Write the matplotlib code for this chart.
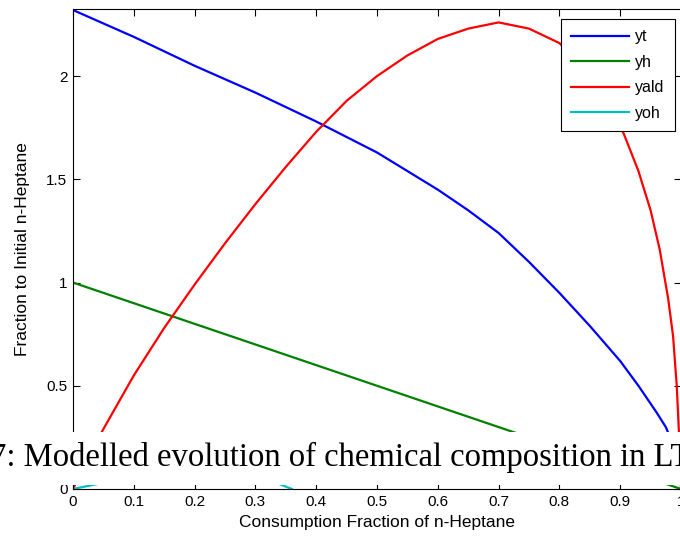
import matplotlib
matplotlib.use("Agg")
import matplotlib.pyplot as plt
from matplotlib.patches import Rectangle

# values (x = consumption fraction of n-heptane)
yt_x = [0.0, 0.1, 0.2, 0.3, 0.4, 0.5, 0.6, 0.65, 0.7, 0.75, 0.8, 0.85, 0.9,
        0.93, 0.96, 0.975, 0.985, 0.993, 1.0]
yt_y = [2.32, 2.19, 2.05, 1.92, 1.78, 1.63, 1.45, 1.35, 1.24, 1.10, 0.95, 0.79, 0.62,
        0.50, 0.37, 0.30, 0.23, 0.14, 0.04]

yh_x = [0.0, 1.0]
yh_y = [1.0, 0.0]

yald_x = [0.0, 0.02, 0.048, 0.1, 0.15, 0.2, 0.25, 0.3, 0.35, 0.4, 0.45, 0.5, 0.55,
          0.6, 0.65, 0.7, 0.75, 0.8, 0.85, 0.88, 0.906, 0.93, 0.95, 0.965, 0.979,
          0.987, 0.993, 0.997, 1.0]
yald_y = [0.0, 0.12, 0.28, 0.55, 0.78, 0.99, 1.19, 1.38, 1.56, 1.73, 1.88, 2.00, 2.10,
          2.18, 2.23, 2.26, 2.23, 2.16, 2.00, 1.88, 1.72, 1.54, 1.35, 1.16, 0.92,
          0.74, 0.50, 0.25, 0.0]

yoh_x = [0.0, 0.05, 0.1, 0.15, 0.2, 0.25, 0.3, 0.33, 0.36]
yoh_y = [0.0, 0.03, 0.06, 0.08, 0.09, 0.08, 0.06, 0.035, 0.0]

xticks = [0, 0.1, 0.2, 0.3, 0.4, 0.5, 0.6, 0.7, 0.8, 0.9, 1]
xtick_labels = ["0", "0.1", "0.2", "0.3", "0.4", "0.5", "0.6", "0.7", "0.8", "0.9", "1"]
yticks = [0, 0.5, 1, 1.5, 2]
ytick_labels = ["0", "0.5", "1", "1.5", "2"]

caption = "7: Modelled evolution of chemical composition in LTC"

W, H = 680, 541
fig = plt.figure(figsize=(W / 100, H / 100), dpi=100)
ax = fig.add_axes([73 / W, 52 / H, 608 / W, 480 / H])

lw = 1.6
ax.plot(yt_x, yt_y, color=(0, 0, 1), lw=lw, label="yt")
ax.plot(yh_x, yh_y, color=(0, 0.5, 0), lw=lw, label="yh")
ax.plot(yald_x, yald_y, color=(1, 0, 0), lw=lw, label="yald")
ax.plot(yoh_x, yoh_y, color=(0, 0.75, 0.75), lw=lw, label="yoh")

ax.set_xlim(0, 1)
ax.set_ylim(0, 2.325)
ax.set_xticks(xticks, xtick_labels)
ax.set_yticks(yticks, ytick_labels)
ax.tick_params(direction="in", top=True, right=True, length=5, width=0.8,
               labelsize=11, pad=4)
for lab in ax.get_xticklabels() + ax.get_yticklabels():
    lab.set_family("Liberation Sans")
for s in ax.spines.values():
    s.set_linewidth(0.8)

ax.set_xlabel("Consumption Fraction of n-Heptane", family="Liberation Sans",
              fontsize=12.5, labelpad=5)
ax.set_ylabel("Fraction to Initial n-Heptane", family="Liberation Sans",
              fontsize=12.5, labelpad=12)

leg = ax.legend(loc="upper right", bbox_to_anchor=(675 / W, (H - 19) / H),
                bbox_transform=fig.transFigure, borderaxespad=0, fancybox=False,
                framealpha=1, edgecolor="black", handlelength=3.6,
                prop={"family": "Liberation Sans", "size": 11.5},
                labelspacing=0.65, borderpad=0.65, handletextpad=0.4)
leg.get_frame().set_linewidth(0.8)

# white caption band pasted over the lower part of the plot
fig.patches.append(Rectangle((0, (H - 485) / H), 1, 53 / H, transform=fig.transFigure,
                             facecolor="white", edgecolor="none", zorder=10))
fig.text(-10 / W, (H - 466) / H, caption, family="Liberation Serif", fontsize=23.5,
         va="baseline", ha="left", zorder=11)

fig.savefig("out.png", dpi=100)
